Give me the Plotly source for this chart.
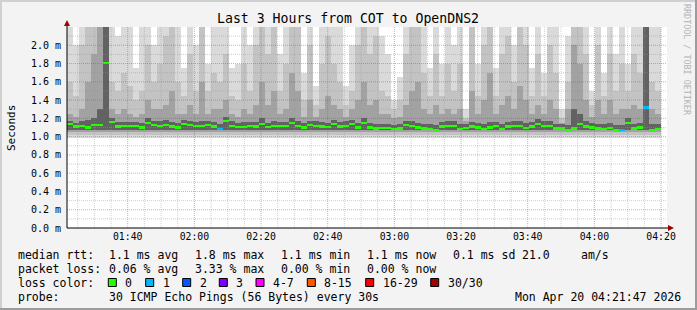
import plotly.graph_objects as go
import pandas as pd

# ---------------- data ----------------
T_START = "2026-04-20 01:21:47"
T_END = "2026-04-20 04:21:47"
STEP_S = 108  # seconds per smoke column

median_ms = [
    1.14, 1.11, 1.115, 1.10, 1.125, 1.13, 1.81, 1.16, 1.11, 1.12, 1.115, 1.115, 1.10, 1.15, 1.13, 1.12,
    1.13, 1.11, 1.10, 1.135, 1.125, 1.12, 1.12, 1.125, 1.11, 1.085, 1.17, 1.12, 1.105, 1.105, 1.115, 1.11, 1.14,
    1.105, 1.12, 1.115, 1.115, 1.145, 1.115, 1.10, 1.125, 1.12, 1.11, 1.105, 1.135, 1.11, 1.12, 1.135, 1.10,
    1.145, 1.10, 1.09, 1.095, 1.095, 1.085, 1.09, 1.125, 1.12, 1.10, 1.09, 1.085, 1.075, 1.11, 1.12, 1.12,
    1.085, 1.095, 1.11, 1.10, 1.08, 1.10, 1.115, 1.085, 1.11, 1.12, 1.12, 1.095, 1.11, 1.135, 1.12, 1.12,
    1.09, 1.09, 1.075, 1.09, 1.14, 1.11, 1.10, 1.09, 1.085, 1.095, 1.075, 1.075, 1.15, 1.09, 1.10, 1.32, 1.075, 1.085,
]
lost_pings = [
    0, 0, 0, 0, 0, 0, 0, 0, 0, 0, 0, 0, 0, 0, 0, 0,
    0, 0, 0, 0, 0, 0, 0, 0, 0, 1, 0, 0, 0, 0, 0, 0, 0,
    0, 0, 0, 0, 0, 0, 0, 0, 0, 0, 0, 0, 0, 0, 0, 0,
    0, 0, 0, 0, 0, 0, 0, 0, 0, 0, 0, 0, 0, 0, 0, 0,
    0, 0, 0, 0, 0, 0, 0, 0, 0, 0, 0, 0, 0, 0, 0, 0,
    0, 0, 0, 0, 0, 0, 0, 0, 0, 0, 0, 1, 0, 0, 0, 1, 0, 0,
]
smoke_outer = [
    2.3, 2.0, 2.3, 2.3, 2.3, 2.3, 2.3, 2.3, 2.1, 2.3, 2.3, 1.75, 2.3, 2.3, 2.0, 2.3,
    2.3, 2.3, 2.2, 1.75, 2.3, 2.0, 2.3, 1.8, 2.3, 2.3, 2.3, 1.75, 1.8, 2.3, 2.0, 2.3, 2.3,
    2.3, 2.3, 1.9, 2.3, 2.3, 2.3, 1.7, 2.3, 1.55, 2.3, 2.3, 2.3, 2.2, 1.55, 2.0, 2.3,
    2.3, 2.3, 2.3, 2.1, 1.9, 1.4, 1.65, 2.3, 2.3, 2.3, 2.2, 1.75, 2.3, 1.8, 2.3, 2.0,
    2.3, 1.3, 2.3, 1.8, 2.3, 2.3, 1.75, 2.3, 2.3, 2.0, 2.3, 2.3, 1.75, 2.3, 1.7, 2.3,
    2.3, 1.3, 2.1, 2.3, 2.3, 2.3, 1.5, 2.3, 1.7, 2.3, 1.9, 2.3, 1.8, 2.3, 2.2, 2.3, 2.3, 2.3,
]
smoke_mid = [
    1.6, 1.45, 2.0, 2.3, 2.3, 2.3, 2.3, 1.6, 1.5, 1.7, 1.55, 1.4, 1.5, 2.0, 1.6, 1.8,
    2.1, 2.3, 1.6, 1.45, 1.9, 1.5, 2.2, 1.5, 1.7, 1.6, 1.9, 1.45, 1.4, 1.8, 1.5, 2.0, 2.3,
    1.9, 2.2, 1.5, 1.8, 2.3, 2.2, 1.4, 2.0, 1.35, 1.8, 2.1, 1.8, 1.6, 1.35, 1.5, 2.0,
    2.3, 1.9, 2.1, 1.5, 1.45, 1.3, 1.4, 1.9, 2.2, 2.3, 1.7, 1.45, 1.9, 1.45, 1.8, 1.5,
    1.8, 1.2, 2.2, 1.45, 2.0, 2.3, 1.45, 1.9, 2.1, 1.6, 2.2, 2.0, 1.45, 1.9, 1.45, 2.0,
    1.7, 1.2, 1.6, 2.3, 2.3, 1.9, 1.35, 2.0, 1.45, 1.9, 1.5, 1.8, 1.5, 1.9, 1.7, 2.3, 1.6, 1.5,
]
smoke_inner = [
    1.25, 1.22, 1.3, 1.6, 1.9, 2.3, 2.3, 1.3, 1.25, 1.3, 1.25, 1.22, 1.25, 1.4, 1.3, 1.3,
    1.35, 1.5, 1.25, 1.25, 1.35, 1.25, 1.6, 1.25, 1.3, 1.3, 1.4, 1.25, 1.22, 1.3, 1.25, 1.35, 1.6,
    1.35, 1.5, 1.25, 1.3, 1.7, 1.5, 1.22, 1.4, 1.22, 1.3, 1.45, 1.35, 1.3, 1.22, 1.3, 1.4,
    1.6, 1.35, 1.4, 1.25, 1.25, 1.2, 1.22, 1.35, 1.5, 1.6, 1.3, 1.25, 1.35, 1.25, 1.3, 1.25,
    1.3, 1.17, 1.5, 1.25, 1.4, 1.7, 1.25, 1.35, 1.45, 1.3, 1.55, 1.4, 1.25, 1.35, 1.25, 1.4,
    1.3, 1.15, 1.3, 2.0, 1.8, 1.4, 1.22, 1.4, 1.25, 1.4, 1.25, 1.3, 1.3, 1.35, 1.3, 2.3, 1.3, 1.25,
]
smoke_core = [
    1.17, 1.15, 1.17, 1.18, 1.2, 1.3, 2.3, 1.2, 1.16, 1.16, 1.16, 1.16, 1.15, 1.2, 1.17, 1.17,
    1.18, 1.16, 1.15, 1.18, 1.17, 1.16, 1.17, 1.17, 1.16, 1.14, 1.22, 1.17, 1.15, 1.16, 1.16, 1.16, 1.2,
    1.15, 1.17, 1.16, 1.16, 1.2, 1.17, 1.15, 1.17, 1.17, 1.16, 1.15, 1.18, 1.16, 1.17, 1.18, 1.15,
    1.2, 1.15, 1.14, 1.14, 1.14, 1.13, 1.14, 1.17, 1.17, 1.15, 1.14, 1.14, 1.13, 1.16, 1.17, 1.17,
    1.14, 1.14, 1.16, 1.15, 1.14, 1.16, 1.16, 1.14, 1.16, 1.17, 1.17, 1.15, 1.16, 1.19, 1.17, 1.17,
    1.14, 1.14, 1.13, 1.3, 1.25, 1.17, 1.15, 1.14, 1.14, 1.15, 1.13, 1.13, 1.2, 1.14, 1.15, 2.3, 1.14, 1.14,
]
smoke_floor = [0.99, 1.02, 1.05, 1.07]           # lower edge of each smoke band (ms)
smoke_colors = ["#dadada", "#c3c3c3", "#a2a2a2", "#626262"]

y_tickvals = [0.0, 0.2, 0.4, 0.6, 0.8, 1.0, 1.2, 1.4, 1.6, 1.8, 2.0]
y_ticktext = ["0.0 m", "0.2 m", "0.4 m", "0.6 m", "0.8 m", "1.0 m", "1.2 m", "1.4 m", "1.6 m", "1.8 m", "2.0 m"]

loss_labels = ["0", "1", "2", "3", "4-7", "8-15", "16-29", "30/30"]
loss_colors = ["#26ff00", "#00b8ff", "#0059ff", "#7e00ff", "#ff00ff", "#ff5500", "#ff0000", "#a00000"]

legend_rows = [
    ["median rtt:", "1.1 ms avg", "1.8 ms max", "1.1 ms min", "1.1 ms now", "0.1 ms sd", "21.0", "am/s"],
    ["packet loss:", "0.06 % avg", "3.33 % max", "0.00 % min", "0.00 % now"],
]
probe_text = "30 ICMP Echo Pings (56 Bytes) every 30s"
stamp_text = "Mon Apr 20 04:21:47 2026"
title_text = "Last 3 Hours from COT to OpenDNS2"

# ---------------- geometry helpers ----------------
W, H = 697, 310
PL, PR, PT, PB = 67, 667, 27, 228
MONO = "DejaVu Sans Mono"


def pxx(x):
    return (x - PL) / (PR - PL)


def pxy(y):
    return (PB - y) / (PB - PT)


n = len(median_ms)
t0 = pd.Timestamp(T_START)
x_centers = [t0 + pd.Timedelta(seconds=STEP_S * (i + 0.5)) for i in range(n)]
bar_w = STEP_S * 1000 * 1.03

fig = go.Figure()

for tops, floor, col in zip([smoke_outer, smoke_mid, smoke_inner, smoke_core], smoke_floor, smoke_colors):
    fig.add_trace(go.Bar(
        x=x_centers, y=[t - floor for t in tops], base=[floor] * n, width=bar_w,
        marker=dict(color=col, line=dict(width=0)), hoverinfo="skip", showlegend=False,
    ))

# median dashes coloured by loss
dash_h = 0.024
med_col = [loss_colors[min(l, 4)] for l in lost_pings]
fig.add_trace(go.Bar(
    x=x_centers, y=[dash_h] * n, base=[m - dash_h / 2 for m in median_ms], width=bar_w,
    marker=dict(color=med_col, line=dict(width=0)), hoverinfo="skip", showlegend=False,
))

shapes = []
# grid lines above the smoke
t_first = pd.Timestamp("2026-04-20 01:25:00")
t_end = pd.Timestamp(T_END)
t = t_first
while t <= t_end:
    major = (t.minute % 20 == 0)
    shapes.append(dict(type="line", xref="x", yref="paper", x0=t, x1=t, y0=0, y1=1, layer="above",
                       line=dict(color="rgba(235,40,40,0.45)" if major else "rgba(150,150,150,0.45)",
                                 width=1, dash="1px,1px")))
    t += pd.Timedelta(minutes=5)
for k in range(1, 22):
    v = k / 10
    major = (k % 2 == 0)
    shapes.append(dict(type="line", xref="paper", yref="y", x0=0, x1=1, y0=v, y1=v, layer="above",
                       line=dict(color="rgba(235,40,40,0.45)" if major else "rgba(150,150,150,0.45)",
                                 width=1, dash="1px,1px")))

# axes lines and arrows
shapes.append(dict(type="line", xref="paper", yref="paper", x0=pxx(67), x1=pxx(670), y0=0, y1=0,
                   line=dict(color="black", width=1), layer="above"))
shapes.append(dict(type="line", xref="paper", yref="paper", x0=0, x1=0, y0=0, y1=pxy(24),
                   line=dict(color="black", width=1), layer="above"))
shapes.append(dict(type="path", xref="paper", yref="paper",
                   path=f"M {pxx(668)} {pxy(225)} L {pxx(674)} {pxy(228)} L {pxx(668)} {pxy(231)} Z",
                   fillcolor="#a00000", line=dict(width=0), layer="above"))
shapes.append(dict(type="path", xref="paper", yref="paper",
                   path=f"M {pxx(64)} {pxy(26)} L {pxx(67)} {pxy(20)} L {pxx(70)} {pxy(26)} Z",
                   fillcolor="#a00000", line=dict(width=0), layer="above"))

# outer frame
shapes += [
    dict(type="line", xref="paper", yref="paper", x0=pxx(0), x1=pxx(W), y0=pxy(1), y1=pxy(1),
         line=dict(color="#d0d0d0", width=2)),
    dict(type="line", xref="paper", yref="paper", x0=pxx(1), x1=pxx(1), y0=pxy(0), y1=pxy(H),
         line=dict(color="#d0d0d0", width=2)),
    dict(type="line", xref="paper", yref="paper", x0=pxx(0), x1=pxx(W), y0=pxy(H - 1), y1=pxy(H - 1),
         line=dict(color="#9c9c9c", width=2)),
    dict(type="line", xref="paper", yref="paper", x0=pxx(W - 1), x1=pxx(W - 1), y0=pxy(0), y1=pxy(H),
         line=dict(color="#9c9c9c", width=2)),
]

annotations = []


def txt(x, y, s, size=11.5, color="black", anchor="left", angle=0):
    annotations.append(dict(x=pxx(x), y=pxy(y), xref="paper", yref="paper", text=s, showarrow=False,
                            xanchor=anchor, yanchor="middle", textangle=angle,
                            font=dict(family=MONO, size=size, color=color)))


txt(348, 19, title_text, size=13.2, anchor="center")
txt(11, 128, "Seconds", size=11, anchor="center", angle=-90)
txt(687, 60, "RRDTOOL / TOBI OETIKER", size=8.4, color="#b4b4b4", anchor="center", angle=90)

row_x = [16, 107.3, 193.3, 279.3, 365, 450.7, 520, 579.3]
row_y = [255, 268.5, 282.5, 296.5]
for r, row in enumerate(legend_rows):
    for j, s in enumerate(row):
        txt(row_x[j], row_y[r], s)

txt(16, row_y[2], "loss color:")
box_x = [108.3, 145.7, 182.7, 219.3, 256, 307.3, 365.7, 430.7]
for bx, lab, col in zip(box_x, loss_labels, loss_colors):
    shapes.append(dict(type="rect", xref="paper", yref="paper", x0=pxx(bx), x1=pxx(bx + 8),
                       y0=pxy(row_y[2] + 4), y1=pxy(row_y[2] - 4), fillcolor=col,
                       line=dict(color="black", width=1)))
    txt(bx + 15, row_y[2], lab)

txt(16, row_y[3], "probe:")
txt(107.3, row_y[3], probe_text)
txt(512.7, row_y[3], stamp_text)

fig.update_layout(
    width=W, height=H, margin=dict(l=PL, r=W - PR, t=PT, b=H - PB),
    paper_bgcolor="#f3f3f3", plot_bgcolor="white", barmode="overlay", bargap=0,
    showlegend=False, shapes=shapes, annotations=annotations,
    xaxis=dict(type="date", range=[T_START, T_END], showgrid=False, zeroline=False, showline=False,
               tickformat="%H:%M", dtick=20 * 60 * 1000, tick0="2026-04-20 00:00:00",
               ticks="", tickfont=dict(family=MONO, size=9.8, color="black"), ticklabelstandoff=1),
    yaxis=dict(range=[0, 2.2], showgrid=False, zeroline=False, showline=False,
               tickmode="array", tickvals=y_tickvals, ticktext=y_ticktext, ticks="",
               tickfont=dict(family=MONO, size=10, color="black"), ticklabelstandoff=5),
)

fig.write_html("out.html")
